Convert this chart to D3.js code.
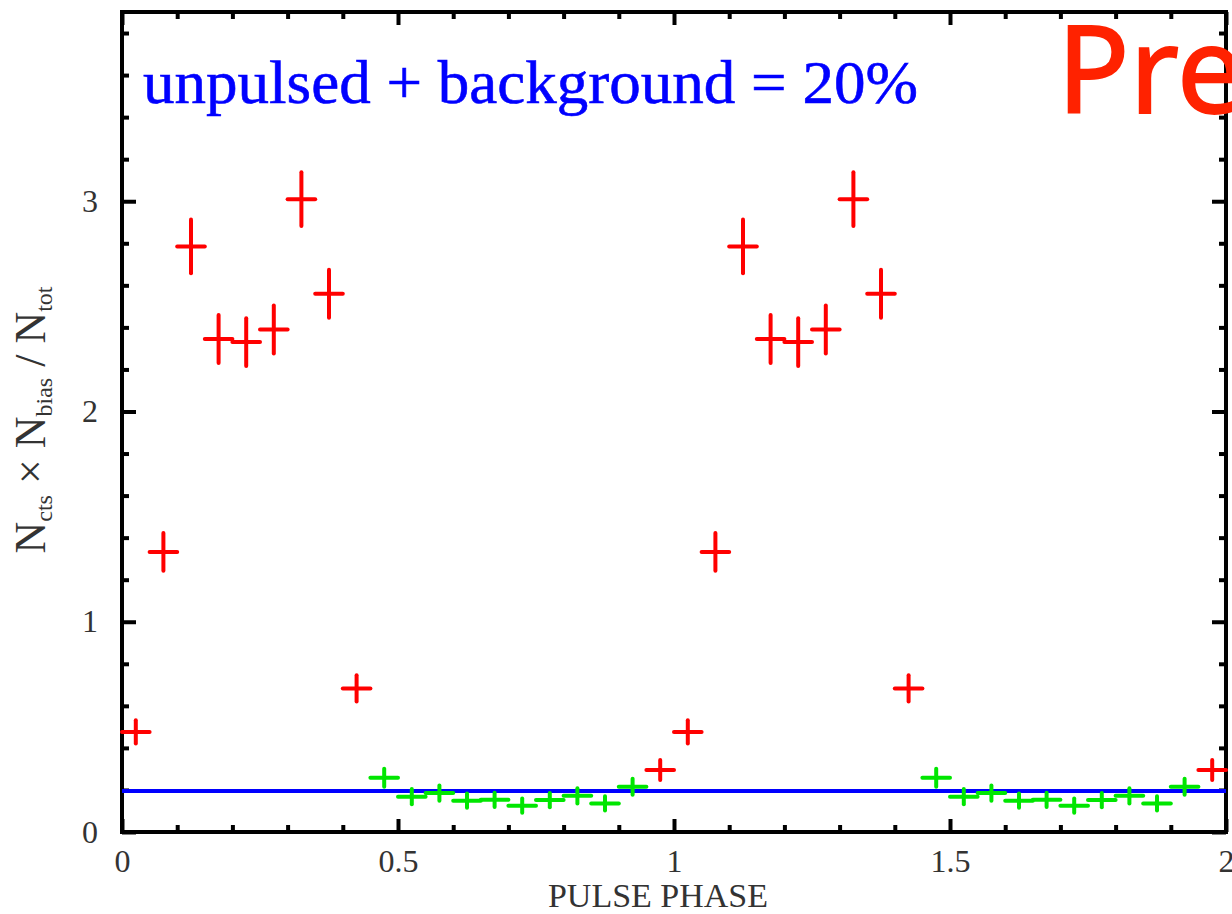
<!DOCTYPE html>
<html>
<head>
<meta charset="utf-8">
<script src="https://cdn.jsdelivr.net/npm/d3@7"></script>
<style>
  body { margin: 0; background: #fff; }
  svg { display: block; }
  .tick text { font-family: "Liberation Serif", "DejaVu Serif", serif; fill: #333; }
</style>
</head>
<body>
<div id="chart"></div>
<script>
// one pulse cycle, 20 phase bins; the plot shows it twice (phase 0-2)
var binCenters = [0.025, 0.075, 0.125, 0.175, 0.225, 0.275, 0.325, 0.375, 0.425, 0.475,
                  0.525, 0.575, 0.625, 0.675, 0.725, 0.775, 0.825, 0.875, 0.925, 0.975];
var binValues  = [0.476, 1.332, 2.785, 2.345, 2.33, 2.39, 3.01, 2.56, 0.683, 0.258,
                  0.168, 0.185, 0.149, 0.153, 0.125, 0.152, 0.172, 0.136, 0.215, 0.295];
var binErrors  = [0.055, 0.09, 0.128, 0.114, 0.114, 0.114, 0.128, 0.114, 0.062, 0.043,
                  0.036, 0.036, 0.034, 0.034, 0.034, 0.034, 0.036, 0.034, 0.038, 0.048];
var binState   = ["on", "on", "on", "on", "on", "on", "on", "on", "on", "off",
                  "off", "off", "off", "off", "off", "off", "off", "off", "off", "on"];
var cycles     = [0, 1];
var halfBin    = 0.025;
var bgLevel    = 0.195;

var xMajor = [0, 0.5, 1, 1.5, 2];
var xMinor = [0.1, 0.2, 0.3, 0.4, 0.6, 0.7, 0.8, 0.9, 1.1, 1.2, 1.3, 1.4, 1.6, 1.7, 1.8, 1.9];
var yMajor = [0, 1, 2, 3];
var yMinor = [0.2, 0.4, 0.6, 0.8, 1.2, 1.4, 1.6, 1.8, 2.2, 2.4, 2.6, 2.8, 3.2, 3.4, 3.6, 3.8];

var margin = {top: 12, right: 6, bottom: 82, left: 122};
var W = 1232, H = 914;
var width  = W - margin.left - margin.right;
var height = H - margin.top - margin.bottom;

var x = d3.scaleLinear().domain([0, 2]).range([0, width]);
var y = d3.scaleLinear().domain([0, 3.9]).range([height, 0]);

var colour = {on: "#ff0000", off: "#00e600"};

var points = [];
cycles.forEach(function(c) {
  binCenters.forEach(function(p, i) {
    points.push({phase: p + c, value: binValues[i], err: binErrors[i], state: binState[i]});
  });
});

var svg = d3.select("#chart").append("svg").attr("width", W).attr("height", H);
var graph = svg.append("g").attr("transform", "translate(" + margin.left + "," + margin.top + ")");

// tick marks on all four sides, pointing inward
var fmt = function(d) { return d3.format("")(d); };
graph.append("g").attr("transform", "translate(0," + height + ")")
  .call(d3.axisBottom(x).tickValues(xMajor).tickSize(-13).tickPadding(17).tickFormat(fmt));
graph.append("g").attr("transform", "translate(0," + height + ")")
  .call(d3.axisBottom(x).tickValues(xMinor).tickSize(-7).tickFormat(""));
graph.append("g")
  .call(d3.axisTop(x).tickValues(xMajor).tickSize(-13).tickFormat(""));
graph.append("g")
  .call(d3.axisTop(x).tickValues(xMinor).tickSize(-7).tickFormat(""));
graph.append("g")
  .call(d3.axisLeft(y).tickValues(yMajor).tickSize(-14).tickPadding(24).tickFormat(fmt));
graph.append("g")
  .call(d3.axisLeft(y).tickValues(yMinor).tickSize(-7).tickFormat(""));
graph.append("g").attr("transform", "translate(" + width + ",0)")
  .call(d3.axisRight(y).tickValues(yMajor).tickSize(-14).tickFormat(""));
graph.append("g").attr("transform", "translate(" + width + ",0)")
  .call(d3.axisRight(y).tickValues(yMinor).tickSize(-7).tickFormat(""));

graph.selectAll(".domain").remove();
graph.selectAll(".tick line").attr("stroke", "#000").attr("stroke-width", 4);
graph.selectAll(".tick text").attr("font-size", 32);

graph.append("rect")
  .attr("x", 0).attr("y", 0).attr("width", width).attr("height", height)
  .attr("fill", "none").attr("stroke", "#000").attr("stroke-width", 4);

// background level
graph.append("line")
  .attr("x1", x(0)).attr("x2", x(2))
  .attr("y1", y(bgLevel)).attr("y2", y(bgLevel))
  .attr("stroke", "#0000ff").attr("stroke-width", 4);

// data crosses
var cross = graph.append("g").selectAll("g").data(points).enter().append("g")
  .attr("stroke", function(d) { return colour[d.state]; })
  .attr("stroke-width", 4).attr("stroke-linecap", "round");
cross.append("line")
  .attr("x1", function(d) { return x(d.phase - halfBin); })
  .attr("x2", function(d) { return x(d.phase + halfBin); })
  .attr("y1", function(d) { return y(d.value); })
  .attr("y2", function(d) { return y(d.value); });
cross.append("line")
  .attr("x1", function(d) { return x(d.phase); })
  .attr("x2", function(d) { return x(d.phase); })
  .attr("y1", function(d) { return y(d.value - d.err); })
  .attr("y2", function(d) { return y(d.value + d.err); });

// annotation
svg.append("text")
  .attr("x", 143).attr("y", 103)
  .attr("font-family", "Liberation Serif, serif")
  .attr("font-size", 62)
  .attr("fill", "#0000ff")
  .attr("stroke", "#0000ff").attr("stroke-width", 0.6)
  .attr("textLength", 775).attr("lengthAdjust", "spacingAndGlyphs")
  .text("unpulsed + background = 20%");

svg.append("text")
  .attr("x", 1057).attr("y", 113)
  .attr("font-family", "Noto Sans, sans-serif")
  .attr("font-size", 120)
  .attr("fill", "#ff2200")
  .attr("stroke", "#ff2200").attr("stroke-width", 1.8)
  .text("Pre");

// axis labels
svg.append("text")
  .attr("x", 658).attr("y", 907)
  .attr("text-anchor", "middle")
  .attr("font-family", "Liberation Serif, serif")
  .attr("font-size", 34)
  .attr("fill", "#333")
  .text("PULSE PHASE");

var yl = svg.append("text")
  .attr("transform", "translate(45,420) rotate(-90)")
  .attr("text-anchor", "middle")
  .attr("font-family", "Liberation Serif, serif")
  .attr("font-size", 44)
  .attr("fill", "#333");
yl.append("tspan").text("N");
yl.append("tspan").attr("font-size", 24).attr("dy", 7).text("cts");
yl.append("tspan").attr("dy", -7).text(" \u00d7 N");
yl.append("tspan").attr("font-size", 24).attr("dy", 7).text("bias");
yl.append("tspan").attr("dy", -7).text(" / N");
yl.append("tspan").attr("font-size", 24).attr("dy", 7).text("tot");
</script>
</body>
</html>
